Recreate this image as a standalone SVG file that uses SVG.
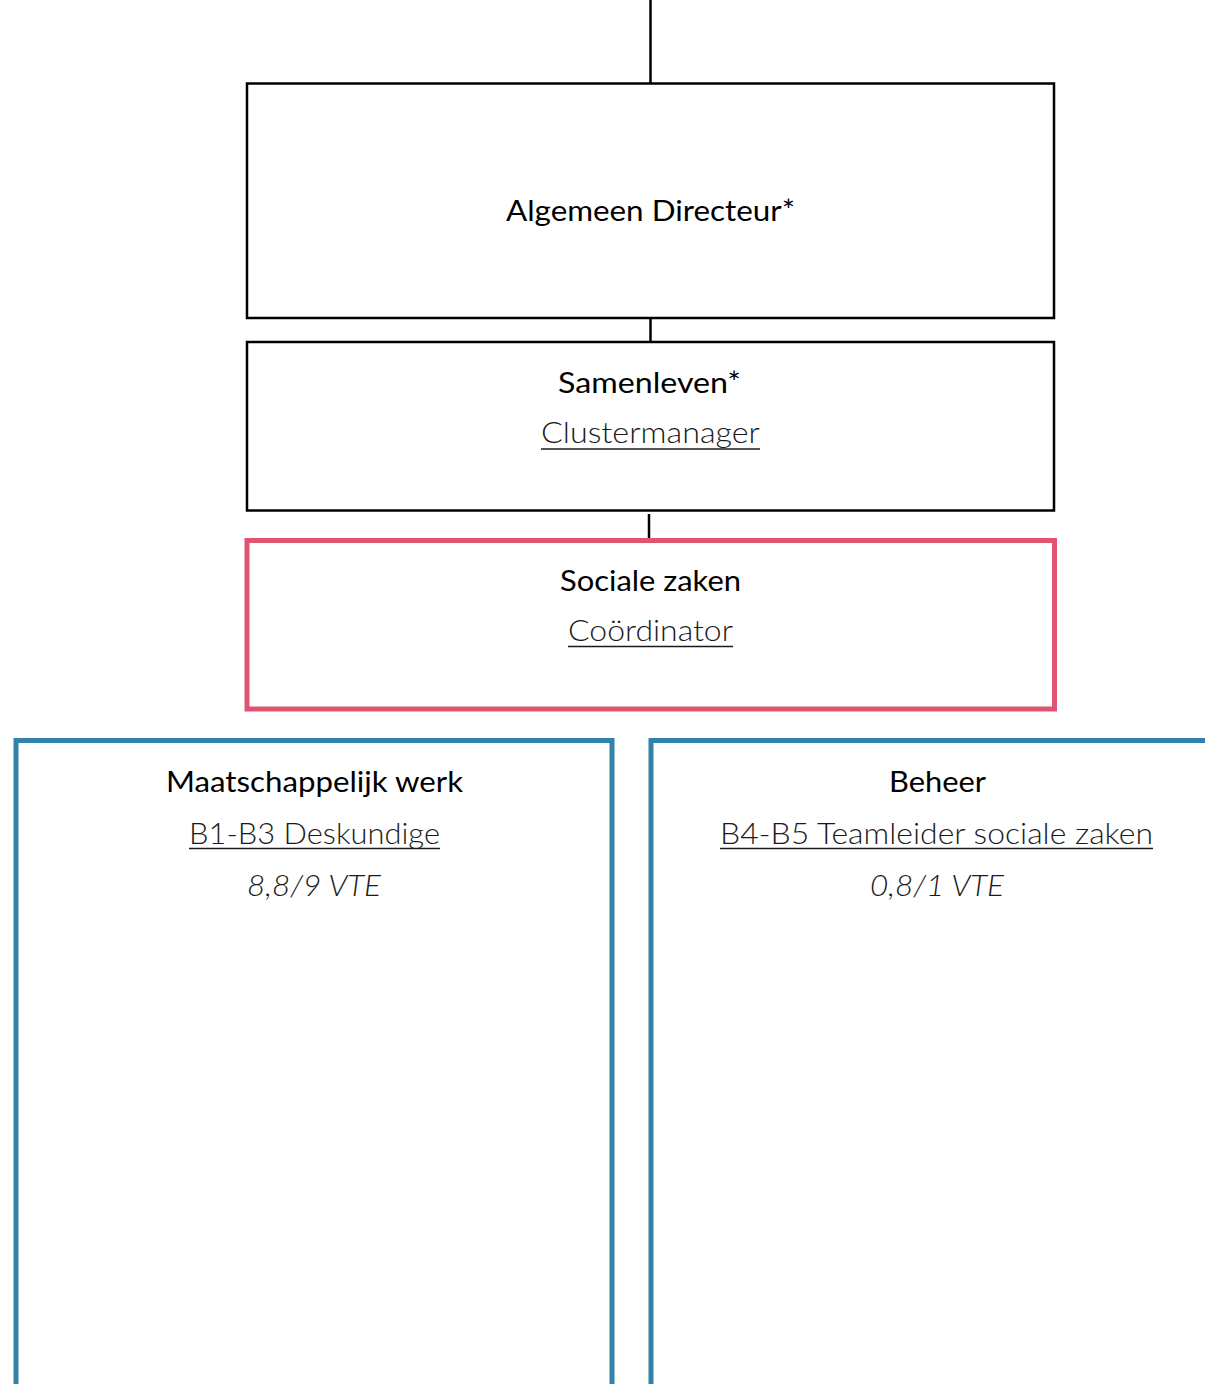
<svg xmlns="http://www.w3.org/2000/svg" width="1205" height="1384" viewBox="0 0 1205 1384">
<style>
text { font-family: Lato, "Open Sans", "Liberation Sans", sans-serif; font-size: 29.5px; fill: #000; text-anchor: middle; }
.sub { font-weight: 300; fill: #1a1a1a; }
.it { font-weight: 300; font-style: italic; fill: #1a1a1a; }
.box { fill: #fff; stroke: #000; stroke-width: 2.5; }
.red { fill: #fff; stroke: #E05471; stroke-width: 5; }
.blue { fill: #fff; stroke: #3283AA; stroke-width: 5; }
.ul { stroke: #1a1a1a; stroke-width: 1.6; }
.conn { stroke: #000; stroke-width: 2.5; fill: none; }
</style>
<rect width="1205" height="1384" fill="#fff"/>
<g id="connectors">
<line class="conn" x1="650.5" y1="0" x2="650.5" y2="83.5"/>
<line class="conn" x1="650.5" y1="318" x2="650.5" y2="342"/>
<line class="conn" x1="649" y1="514" x2="649" y2="539"/>
</g>
<g id="node-directeur">
<rect class="box" x="247" y="83.5" width="807" height="234.5"/>
<text x="650.5" y="221" textLength="289" lengthAdjust="spacingAndGlyphs">Algemeen Directeur*</text>
</g>
<g id="node-samenleven">
<rect class="box" x="247" y="342" width="807" height="168.5"/>
<text x="649.5" y="393" textLength="183" lengthAdjust="spacingAndGlyphs">Samenleven*</text>
<text class="sub" x="650.5" y="443" textLength="219" lengthAdjust="spacingAndGlyphs">Clustermanager</text>
<line class="ul" x1="541" y1="449" x2="760" y2="449"/>
</g>
<g id="node-sociale-zaken">
<rect class="red" x="247" y="540.5" width="807.5" height="168.5"/>
<text x="650.5" y="591" textLength="181" lengthAdjust="spacingAndGlyphs">Sociale zaken</text>
<text class="sub" x="650.5" y="641" textLength="165" lengthAdjust="spacingAndGlyphs">Coördinator</text>
<line class="ul" x1="568" y1="646.5" x2="733" y2="646.5"/>
</g>
<g id="node-maatschappelijk-werk">
<rect class="blue" x="16" y="740.5" width="596" height="700"/>
<text x="314.5" y="792" textLength="297" lengthAdjust="spacingAndGlyphs">Maatschappelijk werk</text>
<text class="sub" x="314.5" y="843.5" textLength="251" lengthAdjust="spacingAndGlyphs">B1-B3 Deskundige</text>
<line class="ul" x1="189" y1="848.5" x2="440" y2="848.5"/>
<text class="it" x="314" y="896" textLength="134" lengthAdjust="spacingAndGlyphs">8,8/9 VTE</text>
</g>
<g id="node-beheer">
<rect class="blue" x="651" y="740.5" width="600" height="700"/>
<text x="937.5" y="792" textLength="97" lengthAdjust="spacingAndGlyphs">Beheer</text>
<text class="sub" x="936.5" y="843.5" textLength="433" lengthAdjust="spacingAndGlyphs">B4-B5 Teamleider sociale zaken</text>
<line class="ul" x1="720" y1="848.5" x2="1153" y2="848.5"/>
<text class="it" x="937" y="896" textLength="134" lengthAdjust="spacingAndGlyphs">0,8/1 VTE</text>
</g>
</svg>
